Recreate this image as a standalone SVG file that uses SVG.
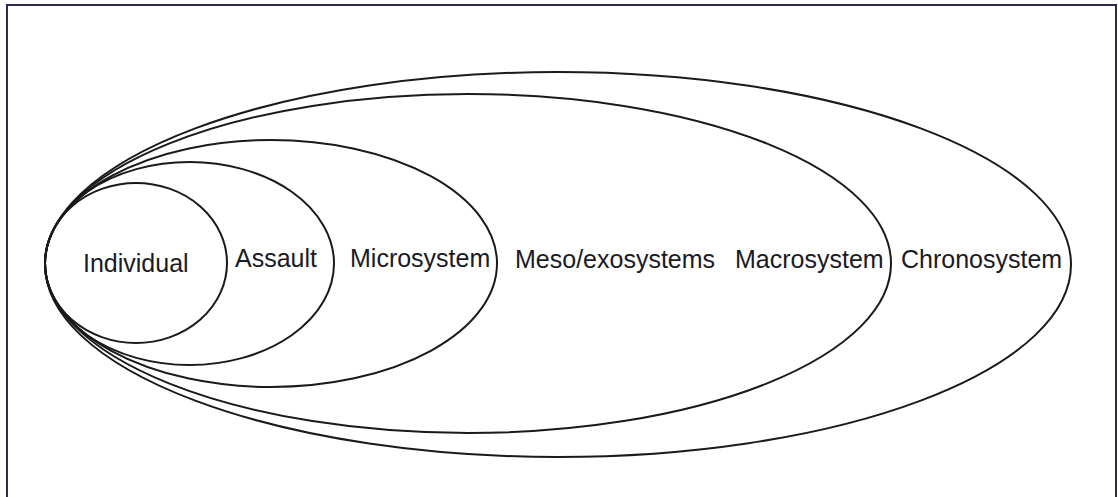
<svg xmlns="http://www.w3.org/2000/svg" width="1118" height="497" viewBox="0 0 1118 497">
<style>
.ring{fill:none;stroke:#1a1a1a;stroke-width:2}
.lbl{font-family:"Liberation Sans",Arial,sans-serif;font-size:25px;fill:#1a1a24}
</style>
<rect x="0" y="0" width="1118" height="497" fill="#ffffff"/>
<rect x="7" y="5" width="1109" height="500" fill="none" stroke="#2b2b4b" stroke-width="2"/>
<g id="connectors"></g>
<g id="chronosystem">
<ellipse class="ring" cx="558" cy="264.5" rx="513" ry="192.5"/>
<text class="lbl" x="901" y="268">Chronosystem</text>
</g>
<g id="macrosystem">
<ellipse class="ring" cx="468" cy="263.5" rx="423" ry="169.5"/>
<text class="lbl" x="515" y="268">Meso/exosystems</text>
<text class="lbl" x="735" y="268">Macrosystem</text>
</g>
<g id="microsystem">
<ellipse class="ring" cx="271" cy="263.5" rx="226" ry="123.5"/>
<text class="lbl" x="350" y="267">Microsystem</text>
</g>
<g id="assault">
<ellipse class="ring" cx="189.5" cy="263.5" rx="144.5" ry="101.5"/>
<text class="lbl" x="235" y="267">Assault</text>
</g>
<g id="individual">
<ellipse class="ring" cx="136" cy="263" rx="91" ry="80"/>
<text class="lbl" x="83" y="272">Individual</text>
</g>
</svg>
